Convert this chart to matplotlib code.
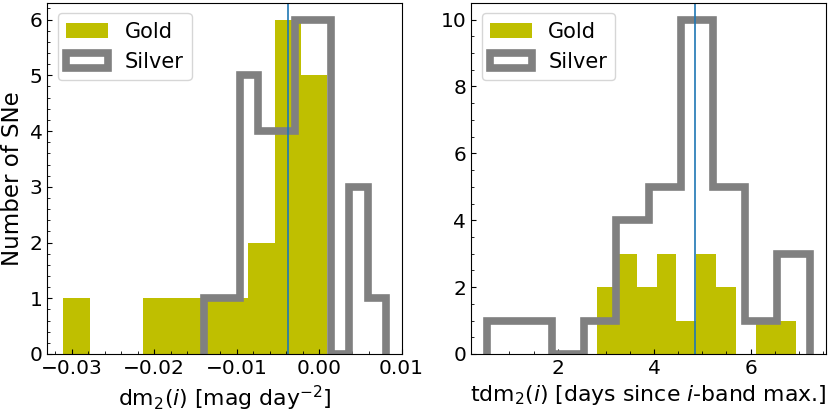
import matplotlib
matplotlib.use("Agg")
import matplotlib.pyplot as plt
import numpy as np
from matplotlib.ticker import AutoMinorLocator

# dm2(i) histograms
dm2_gold_edges = np.linspace(-0.0310, 0.0010, 11)
dm2_gold_counts = [1, 0, 0, 1, 1, 1, 1, 2, 6, 5]
dm2_silver_edges = np.linspace(-0.0140, 0.0081, 11)
dm2_silver_counts = [1, 1, 5, 4, 4, 6, 6, 0, 3, 1]
dm2_line = -0.0038

# tdm2(i) histograms
tdm2_gold_edges = np.linspace(2.815, 6.937, 11)
tdm2_gold_counts = [2, 3, 2, 3, 1, 3, 2, 0, 1, 1]
tdm2_silver_edges = np.linspace(0.540, 7.227, 11)
tdm2_silver_counts = [1, 1, 0, 1, 4, 5, 10, 5, 1, 3]
tdm2_line = 4.846

fig, axes = plt.subplots(1, 2, figsize=(8.3, 4.15), dpi=100)
fig.subplots_adjust(left=0.057, right=0.995, bottom=0.147, top=0.993, wspace=0.195)

panels = [
    (dm2_gold_edges, dm2_gold_counts, dm2_silver_edges, dm2_silver_counts, dm2_line,
     r'dm$_2$($i$) [mag day$^{-2}$]'),
    (tdm2_gold_edges, tdm2_gold_counts, tdm2_silver_edges, tdm2_silver_counts, tdm2_line,
     r'tdm$_2$($i$) [days since $i$-band max.]'),
]

for ax, (ge, gc, se, sc, vline, xlabel) in zip(axes, panels):
    # histograms rebuilt from the read-off bin counts
    ax.hist(ge[:-1], bins=ge, weights=gc, color='y', label='Gold')
    ax.hist(se[:-1], bins=se, weights=sc, histtype='step', color='grey', lw=5.5,
            label='Silver')
    ax.axvline(vline, color='C0', lw=1.2)
    ax.set_xlabel(xlabel, fontsize=15.8)
    ax.xaxis.set_minor_locator(AutoMinorLocator())
    ax.yaxis.set_minor_locator(AutoMinorLocator())
    ax.tick_params(which='both', direction='in', labelsize=14.5)
    ax.legend(loc='upper left', fontsize=15)

axes[0].set_ylabel('Number of SNe', fontsize=16.5)

fig.savefig('out.png', dpi=100)
